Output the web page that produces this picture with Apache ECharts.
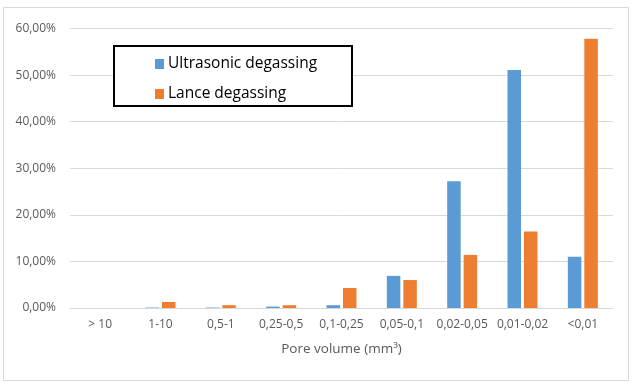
<!DOCTYPE html>
<html>
<head>
<meta charset="utf-8">
<script src="https://cdn.jsdelivr.net/npm/echarts@6/dist/echarts.min.js"></script>
<style>
  html, body { margin: 0; padding: 0; background: #fff; }
  #chart { width: 632px; height: 383px; }
</style>
</head>
<body>
<div id="chart"></div>
<script>
// Pore size classes (mm³) and share of total pore volume (%)
const categories = ['> 10', '1-10', '0,5-1', '0,25-0,5', '0,1-0,25', '0,05-0,1', '0,02-0,05', '0,01-0,02', '<0,01'];
const ultrasonic = [0, 0.1, 0.1, 0.3, 0.6, 6.9, 27.2, 51.1, 11.0];
const lance = [0, 1.3, 0.6, 0.6, 4.3, 6.0, 11.4, 16.4, 57.8];
const seriesNames = ['Ultrasonic degassing', 'Lance degassing'];
const axisTitle = 'Pore volume (mm³)';

const FONT = "'Open Sans', 'Liberation Sans', sans-serif";
const chart = echarts.init(document.getElementById('chart'), null, { renderer: 'canvas' });

const pct = v => v.toFixed(2).replace('.', ',') + '%';

chart.setOption({
  animation: false,
  backgroundColor: '#fff',
  textStyle: { fontFamily: FONT },
  grid: { left: 70, right: 19, top: 28.5, bottom: 75 },
  graphic: [
    { type: 'rect', z: 0, silent: true,
      shape: { x: 3.5, y: 7.5, width: 625, height: 373 },
      style: { fill: 'none', stroke: '#d9d9d9', lineWidth: 1 } },
    { type: 'rect', z: 10, silent: true,
      shape: { x: 114, y: 46, width: 238, height: 60 },
      style: { fill: '#fff', stroke: '#000', lineWidth: 2 } }
  ],
  legend: {
    z: 11,
    orient: 'vertical',
    left: 150,
    top: 51,
    itemWidth: 9,
    itemHeight: 10,
    itemGap: 14,
    icon: 'rect',
    data: seriesNames,
    textStyle: { fontSize: 15.5, color: '#000', fontFamily: FONT, padding: [0, 0, 0, -1] }
  },
  xAxis: {
    type: 'category',
    data: categories,
    name: axisTitle,
    nameLocation: 'middle',
    nameGap: 34,
    nameTextStyle: { fontSize: 13.5, color: '#595959', fontFamily: FONT },
    axisLine: { lineStyle: { color: '#d9d9d9', width: 1 } },
    axisTick: { show: false },
    axisLabel: { color: '#595959', fontSize: 12, margin: 11, interval: 0, fontFamily: FONT }
  },
  yAxis: {
    type: 'value',
    min: 0,
    max: 60,
    interval: 10,
    axisLine: { show: false },
    axisTick: { show: false },
    splitLine: { lineStyle: { color: '#d9d9d9', width: 1 } },
    axisLabel: { color: '#595959', fontSize: 12, margin: 14, formatter: pct, fontFamily: FONT }
  },
  series: [
    { name: seriesNames[0], type: 'bar', data: ultrasonic, barWidth: 13.5, barGap: '22%',
      itemStyle: { color: '#5b9bd5' } },
    { name: seriesNames[1], type: 'bar', data: lance, barWidth: 13.5, barGap: '22%',
      itemStyle: { color: '#ed7d31' } }
  ]
});
</script>
</body>
</html>
